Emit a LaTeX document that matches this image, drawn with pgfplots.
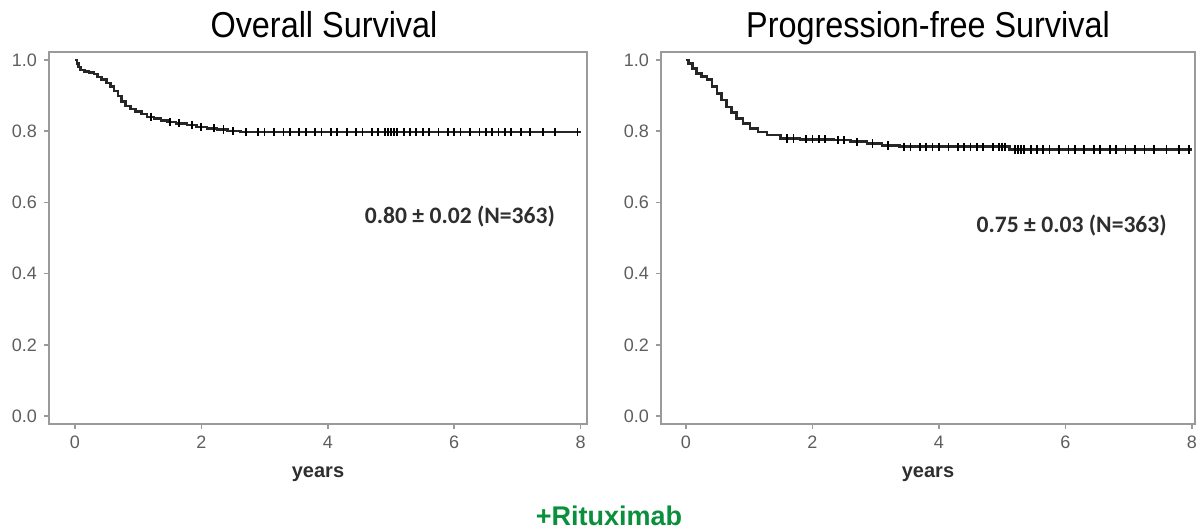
\documentclass[border=0pt]{standalone}
\usepackage{fontspec}
\setmainfont{Liberation Sans}
\newfontfamily\narrowfont{Liberation Sans}[FakeStretch=0.9]
\newfontfamily\annofont{Carlito}
\usepackage{pgfplots}
\pgfplotsset{compat=1.18}
\definecolor{framegray}{HTML}{9A9A9A}
\definecolor{ticktext}{HTML}{5E5E5E}
\definecolor{annotext}{HTML}{2E2E2E}
\definecolor{ritgreen}{HTML}{0A8F3C}

\pgfplotsset{
  kmstyle/.style={
    scale only axis,
    height=186pt,
    ymin=-0.022, ymax=1.022,
    ytick={0,0.2,0.4,0.6,0.8,1.0},
    xtick={0,2,4,6,8},
    axis line style={framegray, line width=0.9pt},
    tick style={framegray, line width=0.8pt},
    tick align=outside,
    major tick length=2.5pt,
    xtick pos=bottom, ytick pos=left,
    tick label style={font=\fontsize{9}{10}\selectfont, text=ticktext},
    /pgf/number format/assume math mode=true,
    yticklabel style={/pgf/number format/fixed, /pgf/number format/fixed zerofill, /pgf/number format/precision=1},
    xlabel={\bfseries years},
    xlabel style={font=\fontsize{10}{12}\selectfont, text=annotext, at={(axis description cs:0.5,0)}, anchor=center, yshift=-25pt},
    clip=false,
  },
  kmline/.style={black!85, line width=1.3pt, const plot, mark=none},
  kmcens/.style={only marks, black, mark=|, mark size=2.1pt, mark options={line width=0.9pt}},
}

\begin{document}
\begin{tikzpicture}
\useasboundingbox (0,0) rectangle (599.5pt,265pt);

% left panel: overall survival
\begin{axis}[kmstyle, at={(24.5pt,53pt)}, anchor=south west, width=269pt,
  xmin=-0.41, xmax=8.1]
\addplot[kmline] coordinates {
 (0,1.0) (0.03,0.99) (0.06,0.98) (0.09,0.972) (0.15,0.968) (0.22,0.965)
 (0.30,0.960) (0.36,0.952) (0.42,0.944) (0.50,0.935) (0.56,0.925) (0.62,0.912)
 (0.68,0.898) (0.74,0.883) (0.80,0.870) (0.88,0.862) (0.96,0.855) (1.05,0.848)
 (1.14,0.840) (1.25,0.835) (1.36,0.830) (1.46,0.826) (1.60,0.822) (1.77,0.817)
 (1.92,0.812) (2.09,0.808) (2.25,0.804) (2.41,0.800) (2.62,0.797) (8.0,0.797)
};
\addplot[kmcens] coordinates {
 (1.2,0.840) (1.5,0.826) (1.65,0.822) (1.85,0.817) (2.0,0.812) (2.2,0.808)
 (2.35,0.804) (2.5,0.800) (2.7,0.797) (2.9,0.797) (3.0,0.797) (3.15,0.797)
 (3.3,0.797) (3.4,0.797) (3.55,0.797) (3.65,0.797) (3.8,0.797) (3.9,0.797)
 (4.05,0.797) (4.15,0.797) (4.3,0.797) (4.45,0.797) (4.55,0.797) (4.7,0.797)
 (4.8,0.797) (4.9,0.797) (4.95,0.797) (5.0,0.797) (5.05,0.797) (5.1,0.797)
 (5.2,0.797) (5.3,0.797) (5.4,0.797) (5.5,0.797) (5.6,0.797) (5.75,0.797)
 (5.9,0.797) (6.0,0.797) (6.1,0.797) (6.25,0.797) (6.4,0.797) (6.5,0.797)
 (6.6,0.797) (6.7,0.797) (6.8,0.797) (6.9,0.797) (7.05,0.797) (7.2,0.797)
 (7.4,0.797) (7.6,0.797) (7.95,0.797)
};
\node[font=\annofont\bfseries\fontsize{11.8}{13}\selectfont, text=annotext] at (axis cs:6.09,0.559) {0.80 ± 0.02 (N=363)};
\end{axis}

% right panel: progression-free survival
\begin{axis}[kmstyle, at={(330.5pt,53pt)}, anchor=south west, width=267pt,
  xmin=-0.395, xmax=8.05]
\addplot[kmline] coordinates {
 (0,1.0) (0.04,0.99) (0.10,0.975) (0.17,0.962) (0.25,0.953) (0.33,0.944)
 (0.41,0.925) (0.49,0.906) (0.56,0.887) (0.64,0.868) (0.72,0.852) (0.80,0.836)
 (0.90,0.822) (1.01,0.808) (1.14,0.798) (1.28,0.789) (1.49,0.779) (1.80,0.777)
 (2.33,0.775) (2.60,0.770) (2.86,0.765) (3.10,0.760) (3.38,0.756) (5.12,0.748)
 (8.0,0.748)
};
\addplot[kmcens] coordinates {
 (1.6,0.779) (1.7,0.779) (1.9,0.777) (2.0,0.777) (2.1,0.777) (2.2,0.777)
 (2.4,0.775) (2.5,0.775) (2.7,0.770) (2.95,0.765) (3.2,0.760) (3.45,0.756)
 (3.55,0.756) (3.7,0.756) (3.8,0.756) (3.9,0.756) (4.0,0.756) (4.15,0.756)
 (4.3,0.756) (4.4,0.756) (4.5,0.756) (4.6,0.756) (4.7,0.756) (4.85,0.756)
 (4.95,0.756) (5.0,0.756) (5.05,0.756) (5.2,0.748) (5.25,0.748) (5.3,0.748)
 (5.35,0.748) (5.45,0.748) (5.55,0.748) (5.65,0.748) (5.75,0.748) (5.9,0.748)
 (6.05,0.748) (6.15,0.748) (6.3,0.748) (6.45,0.748) (6.55,0.748) (6.7,0.748)
 (6.8,0.748) (6.95,0.748) (7.1,0.748) (7.25,0.748) (7.4,0.748) (7.6,0.748)
 (7.8,0.748) (7.95,0.748)
};
\node[font=\annofont\bfseries\fontsize{11.8}{13}\selectfont, text=annotext] at (axis cs:6.10,0.534) {0.75 ± 0.03 (N=363)};
\end{axis}

% titles and caption
\node[font=\narrowfont\fontsize{18}{20}\selectfont, anchor=base] at (162pt,246pt) {Overall Survival};
\node[font=\narrowfont\fontsize{18}{20}\selectfont, anchor=base] at (464pt,246pt) {Progression-free Survival};
\node[font=\bfseries\fontsize{13.5}{16}\selectfont, text=ritgreen] at (304.5pt,7pt) {+Rituximab};
\end{tikzpicture}
\end{document}
